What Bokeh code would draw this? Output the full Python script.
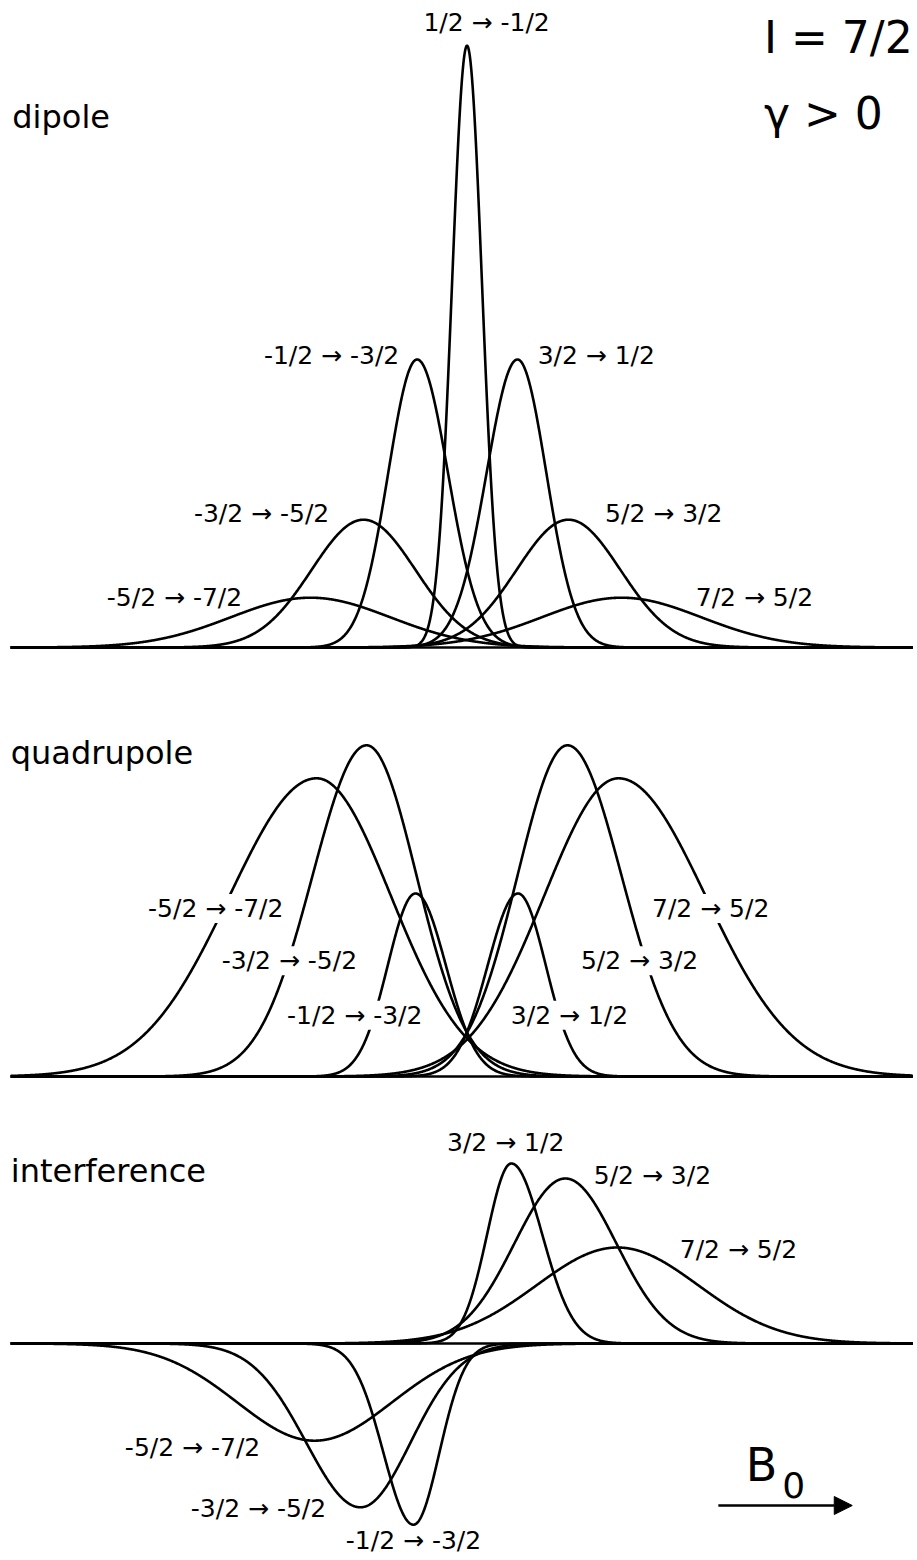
import numpy as np
from bokeh.plotting import figure
from bokeh.layouts import column
from bokeh.models import Label, Arrow, NormalHead, Range1d
from bokeh.embed import file_html
from bokeh.resources import INLINE

# Field axis: offset of B0 from the central resonance, in units of the mean
# quadrupole splitting. Intensities in arbitrary units (same scale in all panels).

# ---- dipole contribution -------------------------------------------------
dip_names = ["-5/2 → -7/2", "-3/2 → -5/2", "-1/2 → -3/2", "1/2 → -1/2",
             "3/2 → 1/2", "5/2 → 3/2", "7/2 → 5/2"]
dip_centre = [-3.03, -2.00, -0.96, 0.01, 0.99, 1.98, 3.01]
dip_height = [0.83, 2.13, 4.80, 10.03, 4.80, 2.13, 0.83]
dip_width_lo = [1.55, 1.01, 0.56, 0.29, 0.60, 1.01, 1.55]
dip_width_hi = [1.55, 1.01, 0.60, 0.29, 0.56, 1.01, 1.55]

# ---- quadrupole contribution --------------------------------------------
quad_names = ["-5/2 → -7/2", "-3/2 → -5/2", "-1/2 → -3/2",
              "3/2 → 1/2", "5/2 → 3/2", "7/2 → 5/2"]
quad_centre = [-2.91, -1.94, -0.99, 1.00, 1.96, 2.95]
quad_height = [4.97, 5.52, 3.05, 3.05, 5.52, 4.97]
quad_width_lo = [1.69, 1.05, 0.54, 0.59, 0.97, 1.44]
quad_width_hi = [1.44, 0.97, 0.59, 0.54, 1.05, 1.69]

# ---- interference term ---------------------------------------------------
int_names = ["-5/2 → -7/2", "-3/2 → -5/2", "-1/2 → -3/2",
             "3/2 → 1/2", "5/2 → 3/2", "7/2 → 5/2"]
int_centre = [-2.95, -2.06, -1.03, 0.87, 1.92, 2.93]
int_height = [-1.62, -2.73, -3.02, 3.00, 2.75, 1.60]
int_width_lo = [1.50, 1.05, 0.58, 0.47, 0.99, 1.57]
int_width_hi = [1.50, 0.97, 0.50, 0.60, 0.99, 1.57]

X_LO, X_HI = -9.049, 8.757
BASE_LO, BASE_HI = -8.85, 8.66
LW = 2.6
LABEL_FONT = "DejaVu Sans"


def line_shape(x, c, h, w_lo, w_hi):
    w = np.where(x < c, w_lo, w_hi)
    return h * np.exp(-0.5 * ((x - c) / w) ** 2)


def make_panel(height, y_lo, y_hi):
    p = figure(width=917, height=height, output_backend="svg",
               toolbar_location=None, x_axis_type=None, y_axis_type=None,
               x_range=Range1d(X_LO, X_HI), y_range=Range1d(y_lo, y_hi),
               min_border=0, outline_line_color=None,
               background_fill_color="white", border_fill_color="white")
    p.grid.visible = False
    return p


def draw_curves(p, centre, height, w_lo, w_hi):
    x = np.linspace(BASE_LO, BASE_HI, 1800)
    p.line([BASE_LO, BASE_HI], [0, 0], line_color="black", line_width=LW)
    for c, h, a, b in zip(centre, height, w_lo, w_hi):
        y = line_shape(x, c, h, a, b)
        p.line(x, y, line_color="black", line_width=LW, line_join="round")


def add_text(p, x, y, text, size, align="center", masked=False):
    lab = Label(x=x, y=y, text=text, text_font=LABEL_FONT,
                text_font_size=f"{size}px", text_align=align,
                text_baseline="middle", text_color="black")
    if masked:
        lab.background_fill_color = "white"
    p.add_layout(lab)


# ---- panel 1: dipole -----------------------------------------------------
p1 = make_panel(660, -13 / 60, 647 / 60)
draw_curves(p1, dip_centre, dip_height, dip_width_lo, dip_width_hi)
dip_label_pos = [(-5.67, 0.83), (-3.98, 2.23), (-2.62, 4.87), (0.39, 10.42),
                 (2.52, 4.87), (3.83, 2.23), (5.59, 0.83)]
for name, (lx, ly) in zip(dip_names, dip_label_pos):
    add_text(p1, lx, ly, name, 25)
add_text(p1, -8.82, 8.85, "dipole", 32, align="left")
add_text(p1, 7.22, 10.17, "I = 7/2", 44)
add_text(p1, 6.93, 8.90, "γ > 0", 44)

# ---- panel 2: quadrupole -------------------------------------------------
p2 = make_panel(440, -24 / 60, 416 / 60)
draw_curves(p2, quad_centre, quad_height, quad_width_lo, quad_width_hi)
quad_label_pos = [(-4.87, 2.80), (-3.44, 1.93), (-2.17, 1.02),
                  (2.00, 1.02), (3.36, 1.93), (4.74, 2.80)]
for name, (lx, ly) in zip(quad_names, quad_label_pos):
    add_text(p2, lx, ly, name, 25, masked=True)
add_text(p2, -8.85, 5.40, "quadrupole", 32, align="left")

# ---- panel 3: interference -----------------------------------------------
p3 = make_panel(460, -217 / 60, 243 / 60)
draw_curves(p3, int_centre, int_height, int_width_lo, int_width_hi)
int_label_pos = [(-5.32, -1.73), (-4.04, -2.75), (-1.03, -3.28),
                 (0.76, 3.35), (3.61, 2.80), (5.28, 1.57)]
for name, (lx, ly) in zip(int_names, int_label_pos):
    add_text(p3, lx, ly, name, 25)
add_text(p3, -8.85, 2.88, "interference", 32, align="left")

# field direction arrow
add_text(p3, 5.42, -2.02, "B", 46, align="left")
add_text(p3, 6.13, -2.35, "0", 36, align="left")
p3.add_layout(Arrow(x_start=4.89, y_start=-2.70, x_end=7.49, y_end=-2.70,
                    line_color="black", line_width=2.5,
                    end=NormalHead(size=18, fill_color="black",
                                   line_color="black")))

layout = column(p1, p2, p3, spacing=0)
open("out.html", "w").write(file_html(layout, INLINE))
